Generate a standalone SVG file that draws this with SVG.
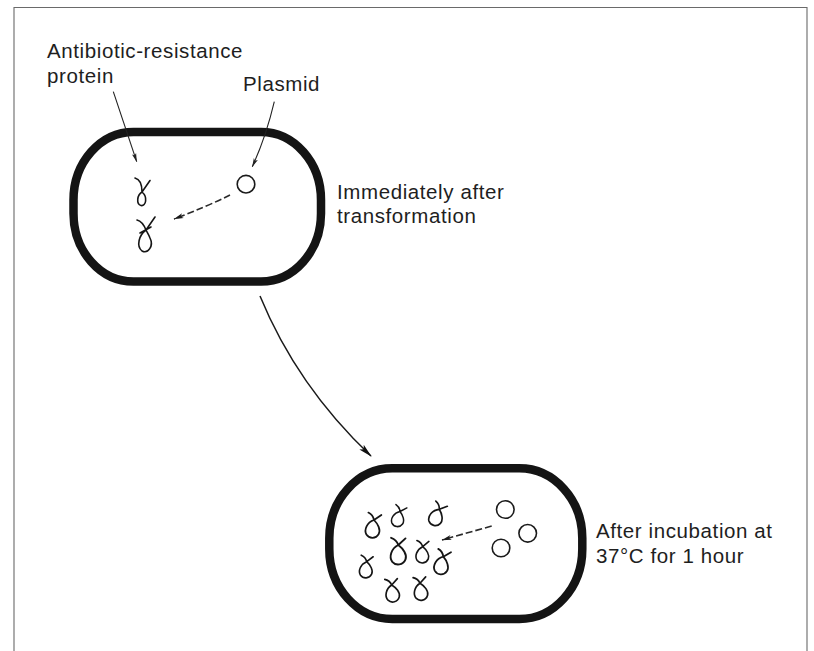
<svg xmlns="http://www.w3.org/2000/svg" xmlns:xlink="http://www.w3.org/1999/xlink" width="814" height="651" viewBox="0 0 814 651">
  <style>
    .frame { fill: none; stroke: #6a6a6a; stroke-width: 1.1; }
    .cell { fill: #ffffff; stroke: #141414; stroke-width: 8.5; }
    .label { font-family: "Liberation Sans", Arial, Helvetica, sans-serif; font-size: 20.5px; letter-spacing: 0.6px; fill: #1e1e1e; }
    .plasmid { fill: none; stroke: #1a1a1a; stroke-width: 1.6; }
    .protein { fill: none; stroke: #151515; stroke-width: 1.6; stroke-linecap: round; stroke-linejoin: round; }
    .pointer { fill: none; stroke: #222; stroke-width: 1.1; }
    .flow { fill: none; stroke: #1a1a1a; stroke-width: 1.5; }
    .transfer { fill: none; stroke: #2a2a2a; stroke-width: 1.6; stroke-dasharray: 7 3; }
  </style>
  <defs>
    <marker id="headLarge" viewBox="0 0 14 8" refX="13" refY="4" markerWidth="14" markerHeight="8" markerUnits="userSpaceOnUse" orient="auto">
      <path d="M0,0.8 L14,4 L0,7.2 L3,4 Z" fill="#111"/>
    </marker>
    <marker id="headSmall" viewBox="0 0 9 5" refX="8.5" refY="2.5" markerWidth="9" markerHeight="5" markerUnits="userSpaceOnUse" orient="auto">
      <path d="M0,0.3 L9,2.5 L0,4.7 L2,2.5 Z" fill="#222"/>
    </marker>
    <marker id="headTransfer" viewBox="0 0 10 6" refX="9.5" refY="3" markerWidth="10" markerHeight="6" markerUnits="userSpaceOnUse" orient="auto">
      <path d="M0,0.5 L10,3 L0,5.5 L2.5,3 Z" fill="#1a1a1a"/>
    </marker>
    <!-- folded protein: crossing point at the origin, rounded loop hanging below -->
    <path id="prot" class="protein" d="M-6,-6 C-3,-5 -1,-3 0,0 C-6,3 -8,10 -5,14 C-2,17.5 4,17 6,12 C7.5,8 4,3 0,0 L6,-5.5"/>
  </defs>

  <!-- page frame -->
  <g id="frame">
    <path class="frame" d="M14,651 L14,7.5 L807,7.5 L807,651"/>
  </g>

  <!-- cell immediately after transformation -->
  <g id="cell-before">
    <rect class="cell" x="73.5" y="132" width="247.5" height="149.5" rx="60" ry="68"/>
    <circle class="plasmid" cx="246" cy="184.2" r="8.8"/>
    <path class="protein" d="M135,178 C139,179 142,184 142,192 C137,195 136,204 141,205.5 C146,206.5 148,197 142,192 L150,180.5"/>
    <path class="protein" d="M137,220 C141,221 144,225 146,230 C139,235 136,246 142,251 C148,254 154,246 150,238 C149,235 147,232 146,230 L155,217 M140,233 L151,227"/>
  </g>

  <!-- cell after incubation at 37 °C -->
  <g id="cell-after">
    <rect class="cell" x="329.3" y="468.3" width="253" height="150.7" rx="63" ry="70"/>
    <circle class="plasmid" cx="505.3" cy="509.5" r="8.8"/>
    <circle class="plasmid" cx="527.7" cy="533.3" r="8.8"/>
    <circle class="plasmid" cx="501" cy="548" r="8.8"/>
    <use xlink:href="#prot" transform="translate(374,520) rotate(8) scale(1.1)"/>
    <use xlink:href="#prot" transform="translate(400,511.5) rotate(15) scale(0.95)"/>
    <use xlink:href="#prot" transform="translate(439.3,509.3) rotate(22) scale(1.05)"/>
    <use xlink:href="#prot" transform="translate(398.3,545) rotate(0) scale(1.2)"/>
    <use xlink:href="#prot" transform="translate(422.7,546.7) rotate(2) scale(1)"/>
    <use xlink:href="#prot" transform="translate(443.3,556.7) rotate(12) scale(1.1)"/>
    <use xlink:href="#prot" transform="translate(366.7,561.7) rotate(5) scale(1)"/>
    <use xlink:href="#prot" transform="translate(391.7,585) rotate(-6) scale(1.05)"/>
    <use xlink:href="#prot" transform="translate(420,583.3) rotate(-6) scale(1.05)"/>
  </g>

  <!-- labels -->
  <g id="labels">
    <text class="label" x="47" y="58">Antibiotic-resistance</text>
    <text class="label" x="47" y="83">protein</text>
    <text class="label" x="243" y="90.5">Plasmid</text>
    <text class="label" x="337" y="199">Immediately after</text>
    <text class="label" x="337" y="223">transformation</text>
    <text class="label" x="596" y="538">After incubation at</text>
    <text class="label" x="596" y="562.5">37°C for 1 hour</text>
  </g>

  <!-- connectors -->
  <g id="connectors">
    <path class="pointer" d="M113.3,91.7 Q124,124 136.7,161.7" marker-end="url(#headSmall)"/>
    <path class="pointer" d="M274.3,101.7 Q266,137 252.3,166.7" marker-end="url(#headSmall)"/>
    <path class="transfer" d="M230,195 Q206,207 174,219" marker-end="url(#headTransfer)"/>
    <path class="transfer" d="M491.7,526 L442,540" marker-end="url(#headTransfer)"/>
    <path class="flow" d="M260,296 Q297,386 371,456" marker-end="url(#headLarge)"/>
  </g>
</svg>
